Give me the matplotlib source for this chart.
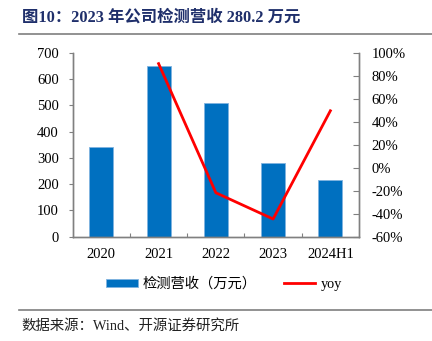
import matplotlib
matplotlib.use("Agg")
import matplotlib.pyplot as plt
from matplotlib.lines import Line2D
from matplotlib.patches import Patch

plt.rcParams['font.family'] = ['Liberation Serif', 'Noto Sans CJK SC', 'DejaVu Sans']

categories = ["2020", "2021", "2022", "2023", "2024H1"]
revenue = [342, 650, 508, 280.2, 216]
yoy = [None, 90.5, -21.8, -44.6, 49.5]
left_ticks = [0, 100, 200, 300, 400, 500, 600, 700]
right_ticks = [-60, -40, -20, 0, 20, 40, 60, 80, 100]

W, H = 432, 341
fig = plt.figure(figsize=(W / 100, H / 100), dpi=100)
ax = fig.add_axes([72.7 / W, 1 - 236.7 / H, (359 - 72.7) / W, (236.7 - 52.7) / H])
ax2 = ax.twinx()

x = list(range(len(categories)))
ax.bar(x, revenue, width=0.42, color='#0070C0', edgecolor='#7FB3E0', linewidth=0.6, zorder=2)
ax.set_xlim(-0.5, len(categories) - 0.5)
ax.set_ylim(0, 700)
ax.set_yticks(left_ticks)
ax.set_yticklabels([str(v) for v in left_ticks])
ax.set_xticks(x)
ax.set_xticklabels(categories)
ax.set_xticks([i + 0.5 for i in range(len(categories) - 1)], minor=True)

xs = [i for i, v in zip(x, yoy) if v is not None]
ys = [v for v in yoy if v is not None]
ax2.plot(xs, ys, color='#FF0000', linewidth=2.0, zorder=3)
ax2.set_ylim(-60, 100)
ax2.set_yticks(right_ticks)
ax2.set_yticklabels([f"{v}%" for v in right_ticks])

spine_c = '#808080'
for a in (ax, ax2):
    a.spines['top'].set_visible(False)
    for s in ('left', 'right', 'bottom'):
        a.spines[s].set_color(spine_c)
        a.spines[s].set_linewidth(1.0)

ax.tick_params(axis='y', direction='out', length=3, width=0.8, color=spine_c, pad=7, labelsize=10.5)
ax.tick_params(axis='x', which='major', length=0, pad=8, labelsize=10.5)
ax.tick_params(axis='x', which='minor', direction='in', length=3, width=0.8, color=spine_c)
ax2.tick_params(axis='y', direction='in', length=4, width=0.8, color=spine_c, pad=9, labelsize=10.5)

ax.set_zorder(1)
ax2.set_zorder(2)
ax2.patch.set_visible(False)

# title and decorative lines
fig.text(22 / W, 1 - 18 / H, "图10：2023 年公司检测营收 280.2 万元", fontsize=11.8,
         fontweight='bold', color='#1F2F6B', ha='left', va='center')
fig.add_artist(Line2D([19 / W, 1], [1 - 34 / H, 1 - 34 / H], color='#7F7F7F', linewidth=1.2))
fig.add_artist(Line2D([19 / W, 1], [1 - 310 / H, 1 - 310 / H], color='#7F7F7F', linewidth=1.2))
fig.text(21 / W, 1 - 326 / H, "数据来源：Wind、开源证券研究所", fontsize=10.4,
         color='#222222', ha='left', va='center')

handles = [Patch(facecolor='#0070C0', edgecolor='#7FB3E0', linewidth=0.6),
           Line2D([0], [0], color='#FF0000', linewidth=2.0)]
fig.legend(handles, ["检测营收（万元）", "yoy"], loc='center', ncol=2,
           bbox_to_anchor=(224 / W, 1 - 284 / H), frameon=False, fontsize=10.3,
           handlelength=2.2, handleheight=0.5, handletextpad=0.35, columnspacing=1.9)

fig.savefig("out.png", dpi=100)
